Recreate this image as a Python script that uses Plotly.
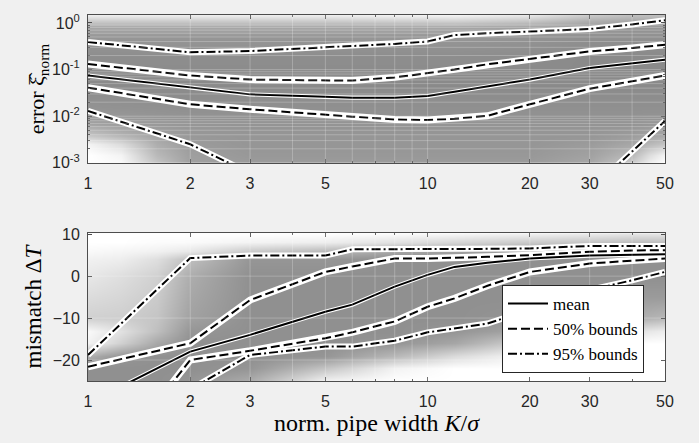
import plotly.graph_objects as go

# ---------------- data ----------------
K = [1, 2, 3, 5, 6, 8, 10, 12, 15, 20, 30, 40, 50]

err_mean  = [0.0745, 0.041, 0.0294, 0.026, 0.025, 0.025, 0.027, 0.0335, 0.0435, 0.061, 0.108, 0.138, 0.163]
err_50_lo = [0.041, 0.018, 0.0141, 0.0105, 0.0098, 0.0085, 0.0083, 0.0088, 0.0102, 0.018, 0.039, 0.056, 0.075]
err_50_hi = [0.132, 0.0745, 0.061, 0.058, 0.058, 0.068, 0.085, 0.10, 0.13, 0.167, 0.245, 0.29, 0.34]
err_95_lo = [0.013, 0.0025, 0.0006, 0.0003, 0.00025, 0.0002, 0.0002, 0.0002, 0.0002, 0.0002, 0.00025, 0.00175, 0.0079]
err_95_hi = [0.39, 0.235, 0.25, 0.30, 0.32, 0.355, 0.40, 0.55, 0.60, 0.65, 0.74, 0.93, 1.14]

dT_mean  = [-30.3, -18.0, -14.0, -8.5, -6.8, -2.5, 0.3, 2.2, 3.2, 4.2, 4.9, 5.1, 5.2]
dT_50_lo = [-51.0, -20.0, -17.8, -14.8, -13.4, -10.8, -7.3, -5.3, -2.3, 1.0, 3.0, 3.7, 4.2]
dT_50_hi = [-21.6, -16.0, -5.7, 1.0, 2.3, 4.2, 4.2, 4.3, 4.6, 5.0, 5.8, 6.1, 6.2]
dT_95_lo = [-40.0, -27.0, -18.8, -16.8, -16.8, -15.4, -13.4, -12.4, -11.3, -8.0, -3.3, -1.0, 1.0]
dT_95_hi = [-18.8, 4.3, 4.9, 4.9, 6.4, 6.4, 6.4, 6.4, 6.5, 6.6, 7.2, 7.2, 7.2]

# background sample density (0 = none/white, 1 = densest/grey)
bg_K = [1, 1.25, 1.6, 2, 3, 5, 8, 12, 20, 30, 40, 45, 50]

err_grid = [0.001, 0.0015, 0.0025, 0.004, 0.007, 0.015, 0.05, 0.2, 0.5, 0.8, 1.1, 1.5]
err_density = [
    [0.00, 0.05, 0.50, 0.80, 0.85, 0.85, 0.85, 0.85, 0.85, 0.75, 0.45, 0.15, 0.00],
    [0.00, 0.10, 0.60, 0.82, 0.88, 0.88, 0.88, 0.88, 0.88, 0.80, 0.60, 0.30, 0.10],
    [0.10, 0.30, 0.70, 0.85, 0.90, 0.90, 0.90, 0.90, 0.90, 0.85, 0.75, 0.60, 0.50],
    [0.50, 0.65, 0.80, 0.88, 0.90, 0.90, 0.90, 0.90, 0.90, 0.90, 0.85, 0.80, 0.75],
    [0.80, 0.85, 0.88, 0.90, 0.92, 0.92, 0.92, 0.92, 0.92, 0.92, 0.92, 0.90, 0.90],
    [0.92, 0.93, 0.94, 0.95, 0.95, 0.95, 0.95, 0.95, 0.95, 0.95, 0.95, 0.95, 0.95],
    [1.00, 1.00, 1.00, 1.00, 1.00, 1.00, 1.00, 1.00, 1.00, 1.00, 1.00, 1.00, 1.00],
    [0.97, 0.97, 0.97, 0.97, 0.97, 0.97, 0.97, 0.97, 0.98, 1.00, 1.00, 1.00, 1.00],
    [0.90, 0.90, 0.90, 0.90, 0.90, 0.90, 0.90, 0.90, 0.92, 0.95, 0.95, 0.95, 0.95],
    [0.75, 0.75, 0.75, 0.75, 0.75, 0.75, 0.75, 0.75, 0.80, 0.85, 0.90, 0.90, 0.90],
    [0.45, 0.45, 0.45, 0.45, 0.45, 0.45, 0.42, 0.40, 0.50, 0.70, 0.75, 0.75, 0.75],
    [0.15, 0.15, 0.15, 0.15, 0.15, 0.15, 0.12, 0.10, 0.20, 0.45, 0.55, 0.55, 0.55],
]

dT_grid = [-25, -22, -19, -16, -13, -10, -5, 0, 4, 6, 8, 10.25]
dT_density = [
    [0.95, 0.95, 0.95, 0.90, 0.70, 0.10, 0.00, 0.00, 0.00, 0.00, 0.00, 0.00, 0.00],
    [0.95, 0.95, 0.95, 0.95, 0.90, 0.50, 0.10, 0.00, 0.00, 0.00, 0.00, 0.00, 0.00],
    [0.70, 0.90, 0.95, 0.95, 0.95, 0.90, 0.60, 0.30, 0.05, 0.00, 0.00, 0.00, 0.00],
    [0.10, 0.40, 0.75, 0.95, 0.95, 0.95, 0.90, 0.75, 0.35, 0.10, 0.05, 0.00, 0.00],
    [0.05, 0.25, 0.55, 0.90, 0.95, 0.95, 0.95, 0.90, 0.75, 0.45, 0.30, 0.20, 0.15],
    [0.40, 0.42, 0.50, 0.80, 0.95, 0.95, 0.95, 0.95, 0.90, 0.80, 0.70, 0.65, 0.60],
    [0.30, 0.35, 0.45, 0.75, 0.95, 0.95, 0.95, 0.95, 0.95, 0.90, 0.85, 0.85, 0.85],
    [0.20, 0.28, 0.40, 0.70, 0.95, 0.95, 0.95, 0.95, 0.95, 0.95, 0.95, 0.95, 0.95],
    [0.12, 0.15, 0.28, 0.55, 0.90, 0.90, 0.95, 0.95, 0.95, 0.95, 0.95, 0.95, 0.95],
    [0.05, 0.08, 0.12, 0.20, 0.45, 0.60, 0.75, 0.80, 0.85, 0.85, 0.85, 0.85, 0.85],
    [0.00, 0.00, 0.03, 0.04, 0.10, 0.15, 0.25, 0.35, 0.45, 0.50, 0.55, 0.55, 0.55],
    [0.00, 0.00, 0.00, 0.00, 0.00, 0.00, 0.02, 0.05, 0.10, 0.15, 0.20, 0.20, 0.20],
]

x_ticks = [1, 2, 3, 5, 10, 20, 30, 50]
x_minor = [4, 6, 7, 8, 9, 40]
err_ticks = [0.001, 0.01, 0.1, 1]
err_ticktext = ["10<sup>-3</sup>", "10<sup>-2</sup>", "10<sup>-1</sup>", "10<sup>0</sup>"]
err_minor = [m * 10.0 ** e for e in (-3, -2, -1) for m in range(2, 10)]
dT_ticks = [-20, -10, 0, 10]

# ---------------- figure ----------------
GRAY = [[0, "#ffffff"], [1, "#8a8a8a"]]
SANS = "Liberation Sans, Arial, sans-serif"
SERIF = "Liberation Serif, Times New Roman, serif"

fig = go.Figure()

fig.add_trace(go.Heatmap(x=bg_K, y=err_grid, z=err_density, colorscale=GRAY, zmin=0, zmax=1,
                         zsmooth="best", showscale=False, hoverinfo="skip", xaxis="x", yaxis="y"))
fig.add_trace(go.Heatmap(x=bg_K, y=dT_grid, z=dT_density, colorscale=GRAY, zmin=0, zmax=1,
                         zsmooth="best", showscale=False, hoverinfo="skip", xaxis="x2", yaxis="y2"))

styles = [
    ("mean", "solid", 4.2),
    ("50% bounds", "9px,4px", 7),
    ("95% bounds", "9px,3px,2px,3px", 6),
]
top_sets = [[err_mean], [err_50_hi, err_50_lo], [err_95_hi, err_95_lo]]
bot_sets = [[dT_mean], [dT_50_hi, dT_50_lo], [dT_95_hi, dT_95_lo]]

# white halos first
for (name, dash, hw), tops, bots in zip(styles, top_sets, bot_sets):
    for s in tops:
        fig.add_trace(go.Scatter(x=K, y=s, mode="lines", line=dict(color="white", width=hw),
                                 showlegend=False, hoverinfo="skip", xaxis="x", yaxis="y"))
    for s in bots:
        fig.add_trace(go.Scatter(x=K, y=s, mode="lines", line=dict(color="white", width=hw),
                                 showlegend=False, hoverinfo="skip", xaxis="x2", yaxis="y2"))
# black lines
for (name, dash, hw), tops, bots in zip(styles, top_sets, bot_sets):
    for s in tops:
        fig.add_trace(go.Scatter(x=K, y=s, mode="lines", line=dict(color="black", width=2, dash=dash),
                                 showlegend=False, hoverinfo="skip", xaxis="x", yaxis="y"))
    for i, s in enumerate(bots):
        fig.add_trace(go.Scatter(x=K, y=s, mode="lines", name=name,
                                 line=dict(color="black", width=2, dash=dash),
                                 showlegend=(i == 0), hoverinfo="skip", xaxis="x2", yaxis="y2"))

# faint grid lines drawn above the shaded background
GRID = "rgba(255,255,255,0.24)"
shapes = []
for xv in [v for v in x_ticks + x_minor if v not in (1, 50)]:
    for xr, yr in (("x", "y domain"), ("x2", "y2 domain")):
        shapes.append(dict(type="line", xref=xr, yref=yr, x0=xv, x1=xv, y0=0, y1=1,
                           line=dict(color=GRID, width=1), layer="above"))
for yv in err_ticks[1:3] + err_minor:
    shapes.append(dict(type="line", xref="x domain", yref="y", x0=0, x1=1, y0=yv, y1=yv,
                       line=dict(color=GRID, width=1), layer="above"))
for yv in dT_ticks[:3]:
    shapes.append(dict(type="line", xref="x2 domain", yref="y2", x0=0, x1=1, y0=yv, y1=yv,
                       line=dict(color=GRID, width=1), layer="above"))

axis_common = dict(showline=True, linecolor="#4d4d4d", linewidth=1, mirror="ticks",
                   ticks="inside", ticklen=4, tickcolor="#4d4d4d", showgrid=False,
                   zeroline=False, automargin=False,
                   tickfont=dict(family=SANS, size=16, color="#262626"))

fig.update_layout(
    template="none",
    width=699, height=443, autosize=False,
    paper_bgcolor="#f0f0f0", plot_bgcolor="white",
    margin=dict(l=88, r=34, t=15, b=62, pad=0),
    shapes=shapes,
    xaxis=dict(type="log", range=[0, 1.69897], domain=[0, 1], anchor="y",
               tickvals=x_ticks, ticktext=[str(v) for v in x_ticks], ticklabelstandoff=6,
               minor=dict(tickvals=x_minor, ticks="inside", ticklen=2, tickcolor="#4d4d4d", showgrid=False),
               **axis_common),
    yaxis=dict(type="log", range=[-3, 0.17], domain=[0.596, 1], anchor="x",
               tickvals=err_ticks, ticktext=err_ticktext, ticklabelstandoff=4,
               minor=dict(tickvals=err_minor, ticks="inside", ticklen=2, tickcolor="#4d4d4d", showgrid=False),
               title=dict(text="error ξ̂<sub>norm</sub>", font=dict(family=SERIF, size=22, color="black"),
                          standoff=0),
               **axis_common),
    xaxis2=dict(type="log", range=[0, 1.69897], domain=[0, 1], anchor="y2",
                tickvals=x_ticks, ticktext=[str(v) for v in x_ticks], ticklabelstandoff=6,
                minor=dict(tickvals=x_minor, ticks="inside", ticklen=2, tickcolor="#4d4d4d", showgrid=False),
                title=dict(text="norm. pipe width <i>K</i>/<i>σ</i>",
                           font=dict(family=SERIF, size=24, color="black"), standoff=0),
                **axis_common),
    yaxis2=dict(range=[-25, 10.25], domain=[0, 0.404], anchor="x2",
                tickvals=dT_ticks, ticklabelstandoff=4,
                title=dict(text="mismatch Δ<i>T</i>", font=dict(family=SERIF, size=23, color="black"),
                           standoff=4),
                **axis_common),
    legend=dict(x=0.7175, y=0.142, xanchor="left", yanchor="middle", bgcolor="white",
                bordercolor="#262626", borderwidth=1, font=dict(family=SERIF, size=17, color="black"),
                itemwidth=40, tracegroupgap=0),
)

fig.write_html("out.html", config={"displayModeBar": False},
               post_script="document.body.style.margin='0px';document.body.style.overflow='hidden';")
